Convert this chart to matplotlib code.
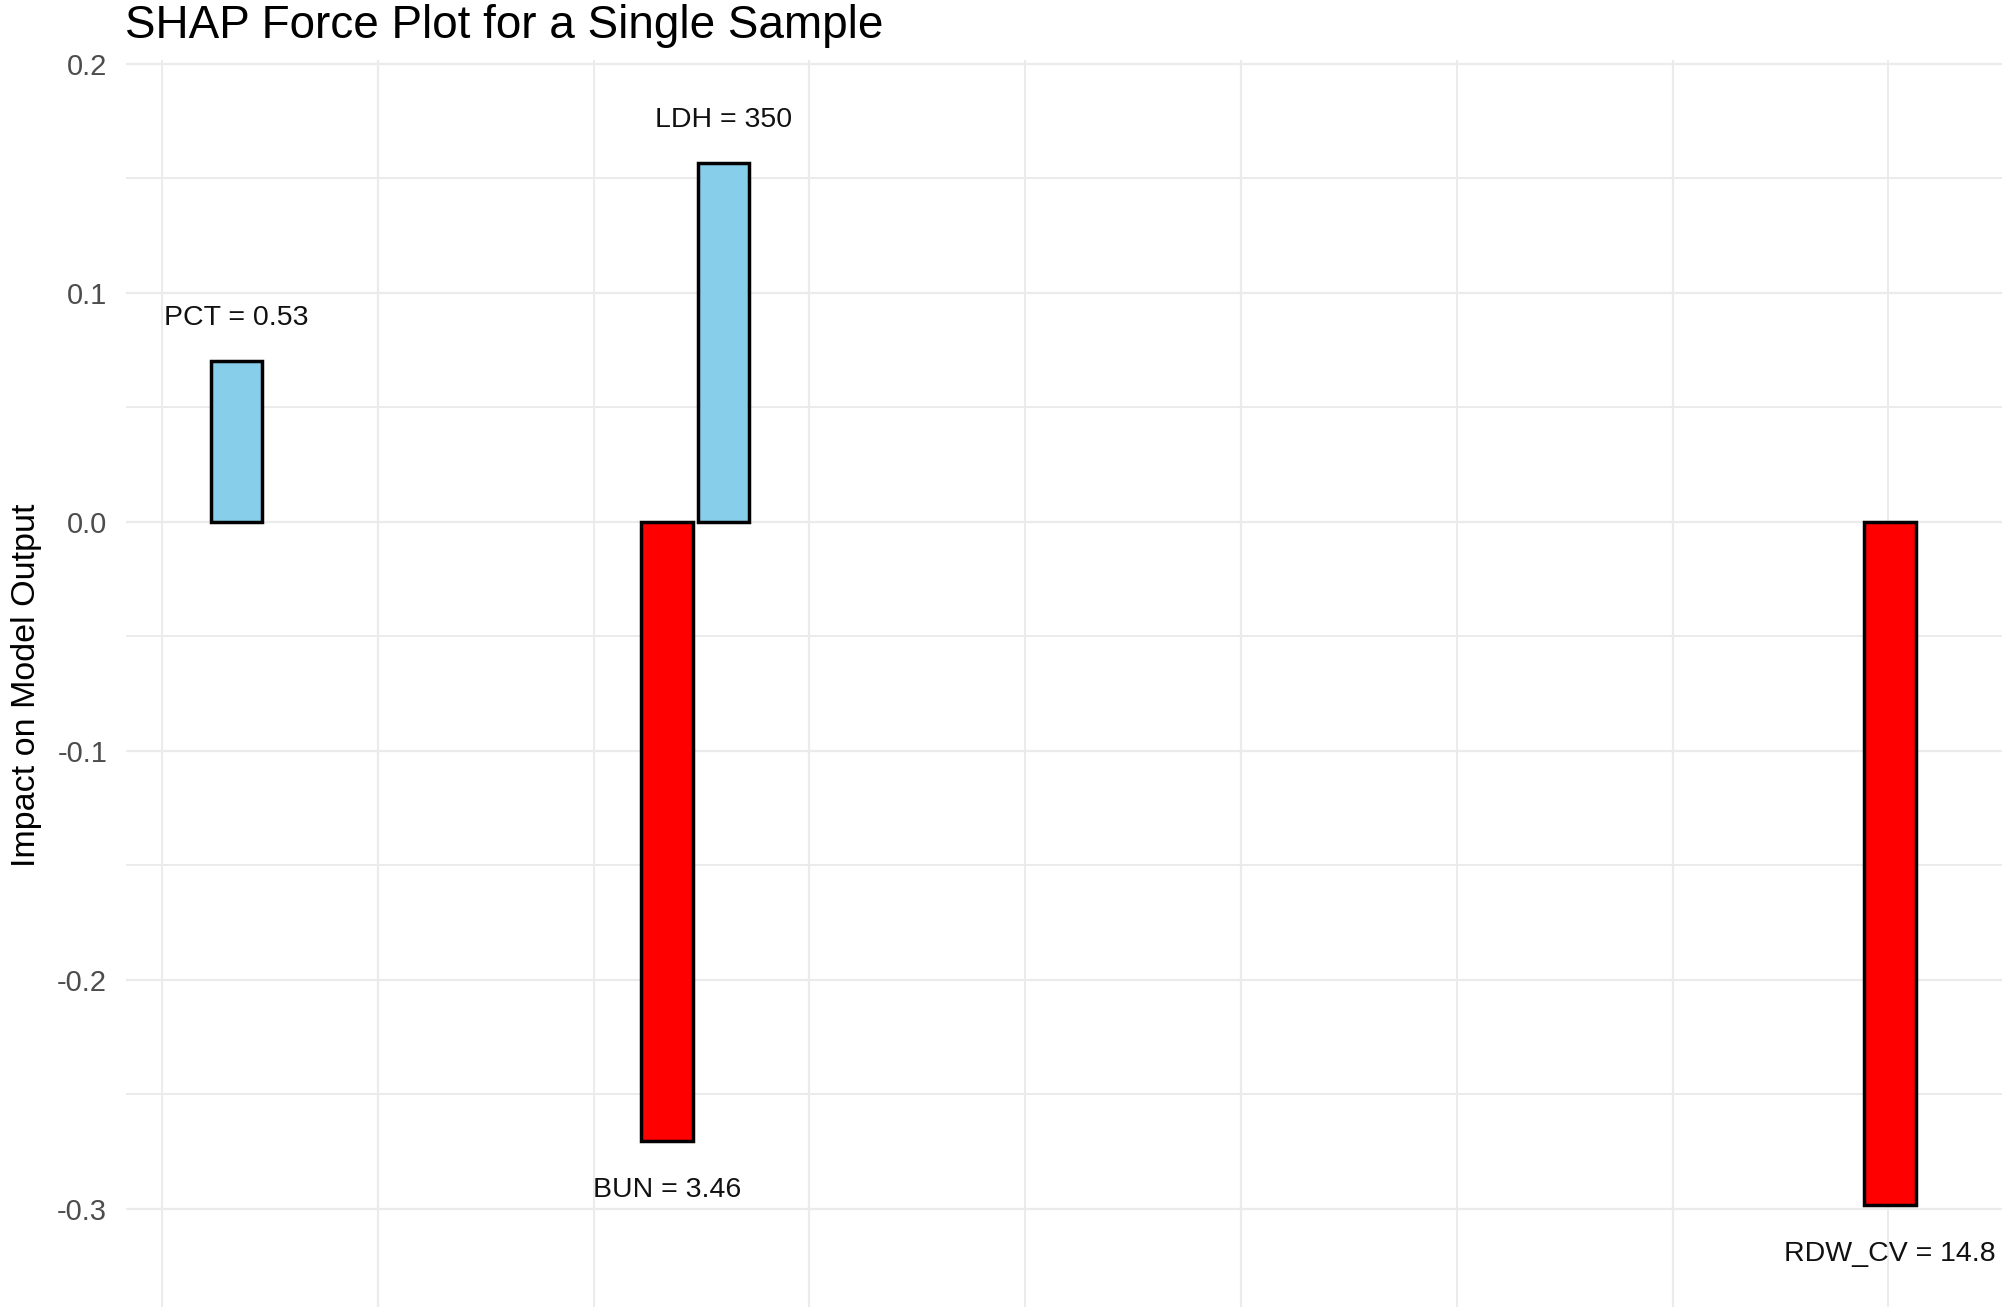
import matplotlib
matplotlib.use("Agg")
import matplotlib.pyplot as plt
from matplotlib.ticker import FixedLocator

# ---- data ----
features = ["PCT", "BUN", "LDH", "RDW_CV"]
feature_values = ["0.53", "3.46", "350", "14.8"]
shap_values = [0.0703, -0.2703, 0.1568, -0.2985]
x_positions = [0.673, 1.670, 1.801, 4.504]

y_ticks = [-0.3, -0.2, -0.1, 0.0, 0.1, 0.2]
y_tick_labels = ["-0.3", "-0.2", "-0.1", "0.0", "0.1", "0.2"]

plt.rcParams["font.family"] = ["Liberation Sans", "DejaVu Sans"]

W, H = 2008, 1313
fig = plt.figure(figsize=(W / 100, H / 100), dpi=100)
fig.patch.set_facecolor("white")

left, right, top, bottom = 126, 2002, 60, 1307
ax = fig.add_axes([left / W, 1 - bottom / H, (right - left) / W, (bottom - top) / H])

colors = ["#87CEEB" if v > 0 else "#FF0000" for v in shap_values]
ax.bar(x_positions, shap_values, width=0.12, color=colors, edgecolor="black",
       linewidth=2.5, zorder=3)

offset = 0.02
for x, v, f, val in zip(x_positions, shap_values, features, feature_values):
    ypos = v + offset if v > 0 else v - offset
    ax.text(x, ypos, f"{f} = {val}", ha="center", va="center_baseline",
            fontsize=20.5, color="#111111", zorder=4)

ax.set_xlim(0.4168, 4.7634)
ax.set_ylim(-0.3429, 0.2016)

ax.yaxis.set_major_locator(FixedLocator(y_ticks))
ax.set_yticklabels(y_tick_labels)
ax.yaxis.set_minor_locator(FixedLocator([-0.25, -0.15, -0.05, 0.05, 0.15]))
ax.xaxis.set_major_locator(FixedLocator([1, 2, 3, 4]))
ax.xaxis.set_minor_locator(FixedLocator([0.5, 1.5, 2.5, 3.5, 4.5]))
ax.set_xticklabels([])

ax.tick_params(axis="both", which="both", length=0)
ax.tick_params(axis="y", which="major", labelsize=21, labelcolor="#4D4D4D", pad=13.5)

ax.grid(True, which="major", color="#EBEBEB", linewidth=1.6)
ax.grid(True, which="minor", color="#EBEBEB", linewidth=1.4)
ax.set_axisbelow(True)
for s in ax.spines.values():
    s.set_visible(False)

fig.text(27 / W, 1 - 685 / H, "Impact on Model Output", rotation=90,
         ha="center", va="center", fontsize=24.5, color="black")
fig.text(125 / W, 1 - 26 / H, "SHAP Force Plot for a Single Sample",
         ha="left", va="center", fontsize=33, color="black")

fig.savefig("out.png", dpi=100, facecolor="white")
